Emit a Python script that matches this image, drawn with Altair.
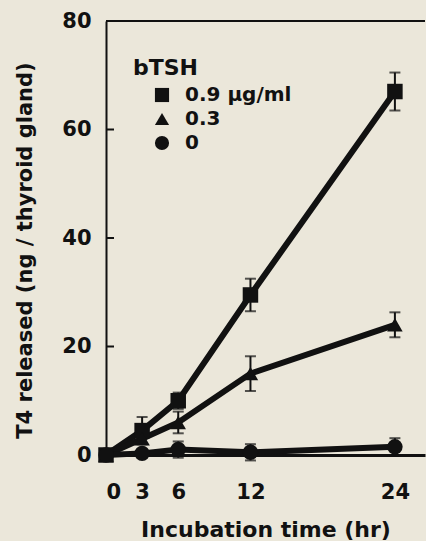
import altair as alt
import pandas as pd

times = [0, 3, 6, 12, 24]
series = ["0.9 µg/ml", "0.3", "0"]
shapes = ["square", "triangle-up", "circle"]
high = [0, 4.5, 10, 29.5, 67]
high_se = [0, 2.5, 1.5, 3, 3.5]
mid = [0, 3, 6, 15, 24]
mid_se = [0, 1, 2, 3.2, 2.3]
low = [0, 0.3, 1, 0.5, 1.5]
low_se = [0, 0, 1.5, 1.5, 1.6]
y_ticks = [0, 20, 40, 60, 80]
x_ticks = [0, 3, 6, 12, 24]
inner_ticks = [20, 40, 60]

rows = []
for name, vals, ses in zip(series, [high, mid, low], [high_se, mid_se, low_se]):
    for t, v, s in zip(times, vals, ses):
        rows.append({"t": t, "v": v, "lo": v - s, "hi": v + s, "se": s, "s": name})
df = pd.DataFrame(rows)
df_err = df[df["se"] > 0]
df_ticks = pd.DataFrame({"y": inner_ticks})

W, H = 319, 434
FONT = "DejaVu Sans"
ink = "#111111"
bg = "#ebe7da"

xs = alt.Scale(domain=[0, 26.5], nice=False, zero=False)
ys = alt.Scale(domain=[0, 80], nice=False)

x_axis = alt.Axis(values=x_ticks, ticks=False, grid=False, domainWidth=3, domainColor=ink,
                  labelFont=FONT, labelFontSize=21, labelFontWeight="bold", labelColor=ink,
                  labelPadding=26, title="Incubation time (hr)", titleFont=FONT,
                  titleFontSize=22, titleFontWeight="bold", titleColor=ink, titlePadding=17)
y_axis = alt.Axis(values=y_ticks, ticks=False, grid=False, domainWidth=2, domainColor=ink,
                  labelFont=FONT, labelFontSize=21, labelFontWeight="bold", labelColor=ink,
                  labelPadding=15, title="T4 released (ng / thyroid gland)", titleFont=FONT,
                  titleFontSize=21, titleFontWeight="bold", titleColor=ink,
                  titleX=-81, titleY=229, titleBaseline="middle")


def X(field):
    return alt.X(field, scale=xs, axis=x_axis)


def Y(field):
    return alt.Y(field, scale=ys, axis=y_axis)


lines = alt.Chart(df).mark_line(color=ink, strokeWidth=6).encode(
    x=X("t:Q"), y=Y("v:Q"), detail="s:N",
)

err = alt.Chart(df_err).mark_rule(color=ink, strokeWidth=2).encode(
    x=X("t:Q"), y=Y("lo:Q"), y2="hi:Q",
)
cap_hi = alt.Chart(df_err).mark_tick(color=ink, thickness=2, size=11, orient="horizontal").encode(
    x=X("t:Q"), y=Y("hi:Q"),
)
cap_lo = alt.Chart(df_err).mark_tick(color=ink, thickness=2, size=11, orient="horizontal").encode(
    x=X("t:Q"), y=Y("lo:Q"),
)

points = alt.Chart(df).mark_point(filled=True, color=ink, size=240, opacity=1).encode(
    x=X("t:Q"), y=Y("v:Q"),
    shape=alt.Shape("s:N", scale=alt.Scale(domain=series, range=shapes),
                    legend=alt.Legend(orient="none", legendX=27, legendY=37, title="bTSH",
                                      titleFont=FONT, titleFontSize=22, titleFontWeight="bold",
                                      titleColor=ink, titlePadding=5,
                                      labelFont=FONT, labelFontSize=20, labelFontWeight="bold",
                                      labelColor=ink, symbolSize=200, symbolFillColor=ink,
                                      symbolStrokeColor=ink, symbolOffset=19, labelOffset=13,
                                      rowPadding=3,
                                      labelExpr="datum.value === '0' ? '\u2002 0' : datum.label")),
)

ticks = alt.Chart(df_ticks).mark_rule(color=ink, strokeWidth=2).encode(
    x=alt.value(0), x2=alt.value(8), y=Y("y:Q"),
)
top = alt.Chart(df_ticks).mark_rule(color=ink, strokeWidth=2).encode(
    x=alt.value(0), x2=alt.value(W), y=alt.value(0),
)

chart = alt.layer(lines, err, cap_hi, cap_lo, points, ticks, top).properties(
    width=W, height=H,
    autosize=alt.AutoSizeParams(type="none"),
    padding={"left": 106, "top": 21, "right": 1, "bottom": 86},
    background=bg,
).configure_view(stroke=None)

chart.save("out.html", embed_options={"renderer": "svg", "actions": False})
